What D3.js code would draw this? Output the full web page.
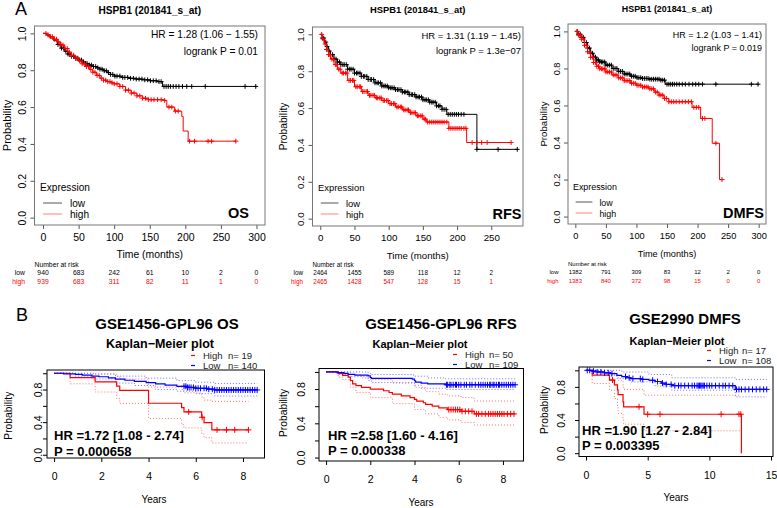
<!DOCTYPE html>
<html>
<head>
<meta charset="utf-8">
<script src="https://cdn.jsdelivr.net/npm/d3@7"></script>
<style>
    body { margin: 0; background: #fff; }
    svg { display: block; font-family: "Liberation Sans", Arial, sans-serif; }
</style>
</head>
<body>
<svg id="chart" width="777" height="508"></svg>
<script>
const W = 777, H = 508;

// ---------- A: KM plotter (months) ----------
const probTicks = [0, 0.2, 0.4, 0.6, 0.8, 1.0];
const monthTicks = [0, 50, 100, 150, 200, 250, 300];
const rfsMonthTicks = [0, 50, 100, 150, 200, 250];

// OS
const osLow = [[0,1],[5,0.99],[10,0.975],[15,0.96],[20,0.94],[25,0.92],[30,0.903],[35,0.888],[40,0.876],[45,0.865],[50,0.855],[55,0.845],[60,0.836],[65,0.828],[70,0.82],[75,0.813],[80,0.806],[85,0.797],[90,0.787],[95,0.777],[100,0.768],[110,0.761],[120,0.756],[130,0.752],[140,0.748],[150,0.743],[160,0.738],[168,0.712]];
const osLowEnd = 300;
const osLowCens = [21,24,26,29,32,35,37,40,43,46,48,51,54,57,60,62,65,68,71,74,77,80,83,86,89,92,95,98,101,104,108,112,115,119,123,127,131,135,139,143,147,151,155,159,163,166,170,173,176,179,183,187,191,196,202,209,228,284,299];
const osHigh = [[0,1],[5,0.992],[10,0.982],[15,0.968],[20,0.953],[25,0.937],[30,0.918],[35,0.898],[40,0.881],[45,0.865],[50,0.85],[55,0.835],[60,0.82],[65,0.805],[70,0.789],[75,0.772],[80,0.757],[85,0.746],[90,0.738],[95,0.732],[100,0.726],[108,0.712],[116,0.692],[124,0.676],[132,0.661],[140,0.648],[148,0.64],[170,0.636],[174,0.6],[185,0.578],[195,0.549],[197,0.47],[204,0.415]];
const osHighEnd = 271;
const osHighCens = [4,7,10,13,16,19,22,25,28,31,34,37,40,43,46,49,52,55,58,61,64,67,70,73,76,79,82,85,88,91,94,97,100,104,108,112,116,120,124,128,132,136,140,144,148,152,156,161,166,171,177,181,186,190,206,213,232,237,271];
const osRiskLow = [940, 683, 242, 61, 10, 2, 0];
const osRiskHigh = [939, 683, 311, 82, 11, 1, 0];

// RFS
const rfsLow = [[0,1],[3,0.98],[6,0.958],[9,0.934],[12,0.91],[15,0.89],[20,0.866],[25,0.85],[30,0.836],[40,0.811],[50,0.79],[60,0.772],[70,0.755],[80,0.737],[90,0.72],[100,0.71],[110,0.7],[120,0.687],[130,0.673],[140,0.66],[150,0.645],[160,0.632],[170,0.612],[178,0.593],[185,0.566],[229,0.376]];
const rfsLowEnd = 288;
const rfsLowCens = [3,5,8,10,13,15,18,20,23,25,28,30,33,35,38,40,43,45,48,50,53,55,58,60,63,65,68,70,73,75,78,80,83,85,88,90,93,95,98,100,103,105,108,110,113,115,118,120,123,125,128,130,133,135,138,140,143,145,148,150,153,155,158,160,163,165,168,170,173,175,178,181,184,187,190,193,196,199,202,206,210,229,260,288];
const rfsHigh = [[0,1],[3,0.975],[6,0.948],[9,0.918],[12,0.89],[15,0.866],[20,0.836],[25,0.811],[30,0.79],[40,0.75],[50,0.716],[60,0.69],[70,0.669],[80,0.655],[90,0.641],[100,0.624],[110,0.606],[120,0.59],[130,0.575],[140,0.558],[150,0.54],[155,0.524],[188,0.49],[214,0.413]];
const rfsHighEnd = 279;
const rfsHighCens = [2,4,7,9,12,14,17,19,22,24,27,29,32,34,37,39,42,44,47,49,52,54,57,59,62,64,67,69,72,74,77,79,82,84,87,89,92,94,97,99,102,104,107,109,112,114,117,119,122,124,127,129,132,134,137,139,142,144,147,149,152,154,157,160,163,166,169,172,175,178,181,185,188,191,194,197,200,203,206,210,213,222,229,236,244,279];
const rfsRiskLow = [2464, 1455, 589, 118, 12, 2];
const rfsRiskHigh = [2465, 1428, 547, 128, 15, 1];

// DMFS
const dmfsLow = [[0,1],[5,0.985],[10,0.968],[15,0.94],[20,0.91],[25,0.882],[30,0.861],[35,0.846],[40,0.835],[50,0.818],[60,0.8],[70,0.784],[80,0.77],[90,0.758],[100,0.75],[110,0.746],[120,0.742],[140,0.737],[147,0.715]];
const dmfsLowEnd = 300;
const dmfsLowCens = [3,5,8,10,13,15,18,20,23,25,28,30,33,35,38,40,43,45,48,50,53,56,59,62,65,68,71,74,77,80,83,86,89,92,95,98,101,104,107,110,113,116,119,122,125,128,131,134,137,140,143,146,150,153,156,159,162,166,170,175,180,186,192,197,202,208,230,288,299];
const dmfsHigh = [[0,1],[5,0.98],[10,0.958],[15,0.925],[20,0.89],[25,0.86],[30,0.832],[35,0.812],[40,0.798],[50,0.781],[60,0.765],[70,0.749],[80,0.734],[90,0.72],[100,0.709],[110,0.7],[120,0.69],[130,0.672],[137,0.656],[145,0.638],[153,0.62],[191,0.59],[205,0.53],[224,0.396],[236,0.2]];
const dmfsHighEnd = 240;
const dmfsHighCens = [3,5,8,10,13,15,18,20,23,25,28,30,33,35,38,40,43,45,48,50,53,56,59,62,65,68,71,74,77,80,83,86,89,92,95,98,101,104,107,110,113,116,119,122,125,128,131,134,137,140,143,146,149,153,157,161,165,170,175,180,185,190,194,198,202,208,212,230,240];
const dmfsRiskLow = [1382, 791, 309, 83, 12, 2, 0];
const dmfsRiskHigh = [1383, 840, 372, 98, 15, 0, 0];

// ---------- B: GEO data sets (years) ----------
const yearTicks8 = [0, 2, 4, 6, 8];
const yearTicks15 = [0, 5, 10, 15];

// GSE1456-GPL96 OS
const b1Low = [[0,1],[0.4,0.993],[0.9,0.986],[1.2,0.978],[1.6,0.965],[1.9,0.957],[2.3,0.943],[2.6,0.928],[3.0,0.914],[3.4,0.9],[3.9,0.885],[4.3,0.87],[4.7,0.855],[5.2,0.84],[5.6,0.826],[6.0,0.815],[6.5,0.805],[6.8,0.795]];
const b1LowUp = [[0,1],[1.6,0.99],[2.6,0.965],[3.9,0.94],[5.2,0.91],[6.0,0.89],[6.8,0.875]];
const b1LowLo = [[0,1],[0.9,0.965],[1.6,0.93],[2.6,0.88],[3.4,0.85],[4.3,0.8],[5.2,0.78],[6.0,0.75],[6.8,0.72]];
const b1LowEnd = 8.6;
const b1LowCens = [5.5,5.58,5.65,5.72,5.8,5.9,6.0,6.1,6.2,6.35,6.45,6.55,6.7,6.8,6.9,7.0,7.1,7.2,7.3,7.4,7.5,7.6,7.7,7.8,7.9,8.0,8.1,8.2,8.3,8.4,8.5,8.6];
const b1High = [[0,1],[0.68,0.947],[1.74,0.895],[2.65,0.842],[2.78,0.789],[4.0,0.632],[5.4,0.579],[5.5,0.526],[6.25,0.46],[6.35,0.394],[6.68,0.305]];
const b1HighUp = [[0,1],[0.68,1.0],[1.74,0.99],[2.65,0.96],[2.78,0.93],[4.0,0.83],[5.4,0.8],[5.5,0.76],[6.25,0.71],[6.35,0.67],[6.68,0.655]];
const b1HighLo = [[0,1],[0.68,0.87],[1.74,0.77],[2.65,0.69],[2.78,0.63],[4.0,0.445],[5.4,0.37],[5.5,0.33],[6.25,0.26],[6.35,0.21],[6.68,0.145]];
const b1HighEnd = 8.23;
const b1HighCens = [5.7, 6.27, 6.9, 7.3, 7.65, 8.23];

// GSE1456-GPL96 RFS
const b2Low = [[0,1],[0.5,0.991],[0.8,0.982],[1.0,0.972],[1.3,0.963],[1.9,0.954],[2.0,0.935],[2.05,0.925],[3.9,0.916],[4.0,0.897],[4.05,0.88],[4.3,0.87],[4.6,0.86],[5.4,0.85]];
const b2LowUp = [[0,1],[1.0,1.0],[1.9,0.99],[2.0,0.97],[3.9,0.965],[4.0,0.95],[4.6,0.93],[5.4,0.92]];
const b2LowLo = [[0,1],[0.5,0.975],[1.0,0.945],[1.9,0.9],[2.05,0.875],[4.0,0.845],[4.3,0.81],[5.4,0.795]];
const b2LowEnd = 8.55;
const b2LowCens = [5.45,5.5,5.6,5.65,5.75,5.85,5.9,6.0,6.1,6.25,6.35,6.5,6.6,6.75,6.9,7.0,7.1,7.2,7.3,7.4,7.45,7.55,7.6,7.7,7.8,7.85,7.95,8.05,8.15,8.25,8.35,8.45,8.55];
const b2High = [[0,1],[0.55,0.98],[0.75,0.96],[1.0,0.94],[1.1,0.9],[1.2,0.86],[1.35,0.84],[1.6,0.82],[2.0,0.8],[2.6,0.78],[2.85,0.76],[3.0,0.74],[3.4,0.72],[3.8,0.7],[4.0,0.68],[4.1,0.66],[4.4,0.64],[4.5,0.62],[4.8,0.6],[5.1,0.58],[5.5,0.56],[6.1,0.54],[6.7,0.51]];
const b2HighUp = [[0,1],[0.55,1.0],[1.1,0.97],[1.6,0.93],[2.0,0.91],[3.0,0.87],[4.0,0.82],[4.5,0.77],[5.1,0.74],[5.5,0.72],[6.1,0.7],[6.7,0.66]];
const b2HighLo = [[0,1],[0.55,0.94],[0.75,0.91],[1.1,0.82],[1.35,0.76],[2.0,0.7],[3.0,0.63],[4.0,0.56],[4.5,0.51],[5.1,0.47],[5.5,0.44],[6.1,0.41],[6.7,0.38]];
const b2HighEnd = 8.55;
const b2HighCens = [5.55,5.65,5.75,5.85,5.95,6.05,6.15,6.3,6.45,6.6,6.8,6.9,7.05,7.2,7.35,7.45,7.55,7.65,7.75,7.85,7.95,8.05,8.2,8.35,8.5];

// GSE2990 DMFS
const b3Low = [[0,1],[0.5,0.99],[0.9,0.98],[1.5,0.97],[2.0,0.96],[2.5,0.94],[2.9,0.925],[3.3,0.91],[3.6,0.9],[4.5,0.89],[5.1,0.88],[5.6,0.865],[6.1,0.845],[6.5,0.83],[6.95,0.815],[12.1,0.77]];
const b3LowUp = [[0,1],[2.0,1.0],[2.9,0.98],[5.1,0.95],[6.95,0.91],[12.1,0.89]];
const b3LowLo = [[0,1],[0.5,0.97],[1.5,0.94],[2.5,0.9],[3.6,0.86],[5.6,0.81],[6.95,0.76],[12.1,0.68]];
const b3LowEnd = 14.65;
const b3LowCens = [0.1,0.3,0.6,0.9,1.2,1.5,1.8,2.1,3.2,3.5,3.8,4.4,4.6,5.4,5.8,6.2,6.5,6.9,7.2,7.5,7.7,8.0,8.3,8.6,8.8,9.0,9.1,9.2,9.3,9.4,9.5,9.6,9.8,10.0,10.2,10.5,10.8,11.1,11.3,11.6,11.9,12.2,12.4,12.6,12.9,13.2,13.5,13.8,14.1,14.4,14.65];
const b3High = [[0,1],[0.5,0.941],[1.9,0.882],[2.3,0.824],[2.55,0.765],[2.6,0.706],[3.0,0.62],[3.05,0.56],[4.7,0.47],[12.6,0]];
const b3HighUp = [[0,1],[0.5,1.0],[1.9,0.99],[2.3,0.96],[2.55,0.92],[2.6,0.88],[3.0,0.82],[3.05,0.77],[4.7,0.7]];
const b3HighLo = [[0,1],[0.5,0.84],[1.9,0.76],[2.3,0.66],[2.55,0.55],[2.6,0.48],[3.0,0.41],[3.05,0.35],[4.7,0.27]];
const b3HighEnd = 12.6;
const b3HighCens = [2.15, 4.3, 5.0, 6.0, 10.95, 12.4, 12.55];

const RED = '#ff0000', BLUE = '#0000ff';

const svg = d3.select('#chart');
svg.append('rect').attr('width', W).attr('height', H).attr('fill', '#fff');

function txt(x, y, s, o = {}) {
    return svg.append('text')
        .attr('x', x).attr('y', y)
        .attr('font-size', o.fs || 10)
        .attr('text-anchor', o.anchor || 'start')
        .attr('font-weight', o.bold ? 'bold' : null)
        .attr('fill', o.fill || '#000')
        .attr('transform', o.rot ? `rotate(-90,${x},${y})` : null)
        .text(s);
}

// survival value in effect at time t
function stepAt(pts, t) {
    let s = pts[0][1];
    for (const p of pts) {
        if (p[0] <= t) s = p[1]; else break;
    }
    return s;
}

function kmPath(pts, end, x, y) {
    const all = pts.concat([[end, pts[pts.length - 1][1]]]);
    return d3.line().x(d => x(d[0])).y(d => y(d[1])).curve(d3.curveStepAfter)(all);
}

function plusPath(pts, times, x, y, r) {
    return times.map(t => {
        const cx = x(t), cy = y(stepAt(pts, t));
        return `M${cx - r},${cy}H${cx + r}M${cx},${cy - r}V${cy + r}`;
    }).join('');
}

function styleAxis(a, fs, col) {
    a.attr('font-family', null).attr('font-size', fs);
    a.select('.domain').remove();
    a.selectAll('.tick line').attr('stroke', col);
    a.selectAll('.tick text').attr('fill', '#000');
}

// ---------- panel A ----------
function drawA(c) {
    const x = d3.scaleLinear().domain(c.xDom).range([c.l, c.r]);
    const y = d3.scaleLinear().domain([-0.04, 1.04]).range([c.b, c.t]);
    const k = c.k;
    const g = svg.append('g');

    txt((c.l + c.r) / 2, c.titleY, 'HSPB1 (201841_s_at)', {fs: 10.1 * k, anchor: 'middle', bold: true});

    const ya = g.append('g').attr('transform', `translate(${c.l},0)`)
        .call(d3.axisLeft(y).tickValues(probTicks).tickSize(4).tickFormat(d3.format('.1f')));
    styleAxis(ya, 10.5 * k, '#555');
    ya.selectAll('.tick text').attr('x', 0).attr('dy', 0).attr('text-anchor', 'middle')
        .attr('transform', `translate(${-c.yLab},0) rotate(-90)`);

    const xa = g.append('g').attr('transform', `translate(0,${c.b})`)
        .call(d3.axisBottom(x).tickValues(c.ticks).tickSize(4).tickPadding(4.5));
    styleAxis(xa, 10.5 * k, '#555');

    g.append('rect')
        .attr('x', c.l).attr('y', c.t)
        .attr('width', c.r - c.l).attr('height', c.b - c.t)
        .attr('fill', 'none').attr('stroke', '#777').attr('stroke-width', 1);

    c.curves.forEach(cv => {
        g.append('path').attr('d', kmPath(cv.pts, cv.end, x, y))
            .attr('fill', 'none').attr('stroke', cv.color).attr('stroke-width', 1);
        g.append('path').attr('d', plusPath(cv.pts, cv.cens, x, y, 2.4))
            .attr('fill', 'none').attr('stroke', cv.color).attr('stroke-width', 1);
    });

    txt(c.hrX, c.hrY[0], c.hr, {fs: 10.2 * k, anchor: 'end'});
    txt(c.hrX, c.hrY[1], c.logrank, {fs: 10.2 * k, anchor: 'end'});
    txt(c.tagX, c.tagY, c.tag, {fs: 14.5, anchor: 'end', bold: true});

    txt((c.l + c.r) / 2, c.timeY, 'Time (months)', {fs: 10.4 * k, anchor: 'middle'});
    txt(c.probX, (c.t + c.b) / 2, 'Probability', {fs: 11 * k, anchor: 'middle', rot: true});

    // legend
    txt(c.legX, c.legY, 'Expression', {fs: 10.1 * k});
    [['low', '#555'], ['high', '#ff8080']].forEach((d, i) => {
        const ly = c.legY + 12.5 + i * 11;
        g.append('line')
            .attr('x1', c.legX + 3 * k).attr('x2', c.legX + 22 * k)
            .attr('y1', ly).attr('y2', ly)
            .attr('stroke', d[1]).attr('stroke-width', 1);
        txt(c.legX + 30 * k, ly + 3.5, d[0], {fs: 10.1 * k});
    });

    // numbers at risk
    txt(c.l, c.riskY[0], 'Number at risk', {fs: 6.8 * k});
    [[c.riskLow, 'low', '#000'], [c.riskHigh, 'high', RED]].forEach((row, i) => {
        const ry = c.riskY[i + 1];
        txt(c.l - 9.5, ry, row[1], {fs: 6.8 * k, anchor: 'end', fill: row[2]});
        row[0].forEach((v, j) => {
            txt(x(c.ticks[j]), ry, v, {fs: 6.8 * k, anchor: 'middle', fill: row[2]});
        });
    });
}

// ---------- panel B ----------
function drawB(c) {
    const x = d3.scaleLinear().domain(c.xDom).range([c.l, c.r]);
    const y = d3.scaleLinear().domain([-0.04, 1.04]).range([c.b, c.t]);
    const g = svg.append('g');

    txt(c.titleX, c.titleY, c.title, {fs: 15, anchor: 'middle', bold: true});
    txt(c.kmX, c.kmY, 'Kaplan\u2212Meier plot', {fs: c.kmFs, anchor: 'middle', bold: true});

    const ya = g.append('g').attr('transform', `translate(${c.l},0)`)
        .call(d3.axisLeft(y).tickValues(probTicks).tickSize(4)
            .tickFormat(d => Math.round(d * 10) % 4 === 0 ? d3.format('.1f')(d) : ''));
    styleAxis(ya, 10.5, '#000');
    ya.selectAll('.tick text').attr('x', 0).attr('dy', 0).attr('text-anchor', 'middle')
        .attr('transform', `translate(${-c.yLab},0) rotate(-90)`);

    const xa = g.append('g').attr('transform', `translate(0,${c.b})`)
        .call(d3.axisBottom(x).tickValues(c.ticks).tickSize(4).tickPadding(11));
    styleAxis(xa, 10.5, '#000');

    // confidence bands
    c.curves.forEach(cv => {
        [cv.up, cv.lo].forEach(band => {
            g.append('path').attr('d', kmPath(band, cv.ciEnd, x, y))
                .attr('fill', 'none').attr('stroke', cv.ci).attr('stroke-width', 1)
                .attr('stroke-dasharray', '1,2');
        });
    });
    c.curves.forEach(cv => {
        g.append('path').attr('d', kmPath(cv.pts, cv.end, x, y))
            .attr('fill', 'none').attr('stroke', cv.color).attr('stroke-width', 1.2);
        g.append('path').attr('d', plusPath(cv.pts, cv.cens, x, y, 3))
            .attr('fill', 'none').attr('stroke', cv.color).attr('stroke-width', 1);
    });

    g.append('rect')
        .attr('x', c.l).attr('y', c.t)
        .attr('width', c.r - c.l).attr('height', c.b - c.t)
        .attr('fill', 'none').attr('stroke', '#000').attr('stroke-width', 1);

    txt(c.hrX, c.hrY[0], c.hr, {fs: 13, bold: true});
    txt(c.hrX, c.hrY[1], c.p, {fs: 13, bold: true});

    // legend
    c.legend.forEach((d, i) => {
        const ly = c.legY + i * 10;
        g.append('line')
            .attr('x1', c.legX - 12).attr('x2', c.legX - 8)
            .attr('y1', ly - 3.5).attr('y2', ly - 3.5)
            .attr('stroke', d[2]).attr('stroke-width', 1.2);
        txt(c.legX, ly, d[0], {fs: 9.5, fill: '#222'});
        txt(c.legX + c.nOff, ly, d[1], {fs: 9.5, fill: '#222'});
    });

    txt(c.yearsX, c.yearsY, 'Years', {fs: 10, anchor: 'middle'});
    txt(c.probX, c.probY, 'Probability', {fs: 10.3, anchor: 'middle', rot: true});
}

// letters
txt(15, 15, 'A', {fs: 18});
txt(16, 321, 'B', {fs: 18});

drawA({
    l: 34.5, t: 26, r: 265, b: 225, xDom: [-12, 312], ticks: monthTicks, k: 1,
    titleY: 14, yLab: 9, probX: 11, timeY: 257.5,
    hrX: 258, hrY: [38, 55], hr: 'HR = 1.28 (1.06 \u2212 1.55)', logrank: 'logrank P = 0.01',
    tag: 'OS', tagX: 249, tagY: 218, legX: 40, legY: 190.5,
    riskY: [267, 274.5, 283.5], riskLow: osRiskLow, riskHigh: osRiskHigh,
    curves: [
        {pts: osLow, end: osLowEnd, cens: osLowCens, color: '#000'},
        {pts: osHigh, end: osHighEnd, cens: osHighCens, color: RED}
    ]
});

drawA({
    l: 312.5, t: 27, r: 523, b: 226, xDom: [-11.4, 296.4], ticks: rfsMonthTicks, k: 0.93,
    titleY: 13, yLab: 9, probX: 287, timeY: 258.5,
    hrX: 521, hrY: [39, 54], hr: 'HR = 1.31 (1.19 \u2212 1.45)', logrank: 'logrank P = 1.3e\u221207',
    tag: 'RFS', tagX: 521.5, tagY: 219, legX: 318, legY: 190.5,
    riskY: [267, 274.5, 283.5], riskLow: rfsRiskLow, riskHigh: rfsRiskHigh,
    curves: [
        {pts: rfsLow, end: rfsLowEnd, cens: rfsLowCens, color: '#000'},
        {pts: rfsHigh, end: rfsHighEnd, cens: rfsHighCens, color: RED}
    ]
});

drawA({
    l: 568, t: 24, r: 766, b: 224, xDom: [-12, 312], ticks: monthTicks, k: 0.88,
    titleY: 11.5, yLab: 8, probX: 547, timeY: 256.5,
    hrX: 762, hrY: [37.5, 51], hr: 'HR = 1.2 (1.03 \u2212 1.41)', logrank: 'logrank P = 0.019',
    tag: 'DMFS', tagX: 764, tagY: 218, legX: 573, legY: 189.5,
    riskY: [266, 273.5, 282.5], riskLow: dmfsRiskLow, riskHigh: dmfsRiskHigh,
    curves: [
        {pts: dmfsLow, end: dmfsLowEnd, cens: dmfsLowCens, color: '#000'},
        {pts: dmfsHigh, end: dmfsHighEnd, cens: dmfsHighCens, color: RED}
    ]
});

drawB({
    l: 47, t: 370, r: 264.5, b: 458, xDom: [-0.3, 8.91], ticks: yearTicks8,
    title: 'GSE1456-GPL96 OS', titleX: 167, titleY: 329, kmX: 160, kmY: 347.5, kmFs: 12.5,
    yLab: 5.5, probX: 12, probY: 415.7, yearsX: 154, yearsY: 503,
    hrX: 54, hrY: [440, 456], hr: 'HR =1.72 [1.08 - 2.74]', p: 'P = 0.000658',
    legX: 203, legY: 359, nOff: 25,
    legend: [['High', 'n= 19', RED], ['Low', 'n= 140', BLUE]],
    curves: [
        {pts: b1High, end: b1HighEnd, ciEnd: b1HighEnd, up: b1HighUp, lo: b1HighLo, cens: b1HighCens, color: RED, ci: '#ff7070'},
        {pts: b1Low, end: b1LowEnd, ciEnd: b1LowEnd, up: b1LowUp, lo: b1LowLo, cens: b1LowCens, color: BLUE, ci: '#7070ff'}
    ]
});

drawB({
    l: 319, t: 368.5, r: 523.5, b: 461, xDom: [-0.32, 8.93], ticks: yearTicks8,
    title: 'GSE1456-GPL96 RFS', titleX: 441, titleY: 329, kmX: 420, kmY: 348, kmFs: 11,
    yLab: 14, probX: 287, probY: 413, yearsX: 421, yearsY: 506,
    hrX: 328, hrY: [440, 455], hr: 'HR =2.58 [1.60 - 4.16]', p: 'P = 0.000338',
    legX: 465, legY: 358, nOff: 24,
    legend: [['High', 'n= 50', RED], ['Low', 'n= 109', BLUE]],
    curves: [
        {pts: b2High, end: b2HighEnd, ciEnd: b2HighEnd, up: b2HighUp, lo: b2HighLo, cens: b2HighCens, color: RED, ci: '#ff7070'},
        {pts: b2Low, end: b2LowEnd, ciEnd: b2LowEnd, up: b2LowUp, lo: b2LowLo, cens: b2LowCens, color: BLUE, ci: '#7070ff'}
    ]
});

drawB({
    l: 579, t: 367, r: 773, b: 456.5, xDom: [-0.57, 15.16], ticks: yearTicks15,
    title: 'GSE2990 DMFS', titleX: 685, titleY: 324, kmX: 677, kmY: 344.5, kmFs: 11,
    yLab: 14, probX: 548, probY: 410, yearsX: 676, yearsY: 501,
    hrX: 582, hrY: [435, 450], hr: 'HR =1.90 [1.27 - 2.84]', p: 'P = 0.003395',
    legX: 719, legY: 354, nOff: 23,
    legend: [['High', 'n= 17', RED], ['Low', 'n= 108', BLUE]],
    curves: [
        {pts: b3High, end: b3HighEnd, ciEnd: 12.55, up: b3HighUp, lo: b3HighLo, cens: b3HighCens, color: RED, ci: '#ff7070'},
        {pts: b3Low, end: b3LowEnd, ciEnd: b3LowEnd, up: b3LowUp, lo: b3LowLo, cens: b3LowCens, color: BLUE, ci: '#7070ff'}
    ]
});
</script>
</body>
</html>
